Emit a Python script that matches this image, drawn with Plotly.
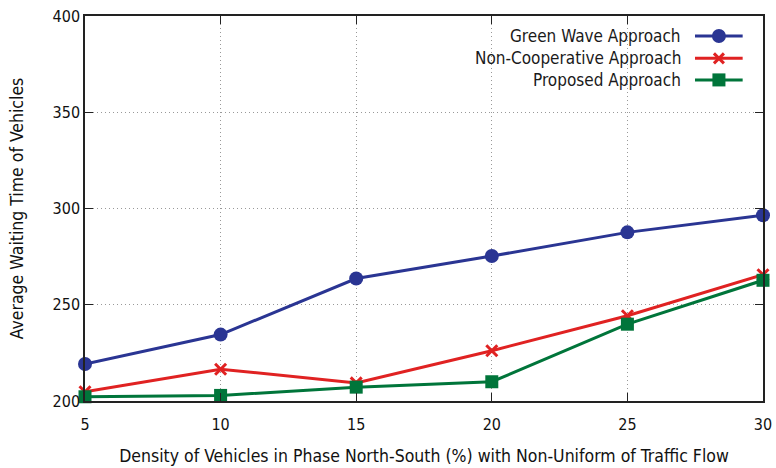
import plotly.graph_objects as go

density = [5, 10, 15, 20, 25, 30]
green_wave = [219.2, 234.5, 263.6, 275.3, 287.6, 296.5]
non_coop = [204.8, 216.5, 209.4, 226.1, 244.3, 265.6]
proposed = [202.2, 202.9, 207.2, 210.0, 239.9, 262.7]

series_names = ["Green Wave Approach", "Non-Cooperative Approach", "Proposed Approach"]
x_ticks = [5, 10, 15, 20, 25, 30]
y_ticks = [200, 250, 300, 350, 400]

colors = ["#2a3593", "#e02222", "#00753a"]
symbols = ["circle", "x-thin", "square"]
FONT = "DejaVu Sans Condensed, DejaVu Sans"

fig = go.Figure()
for name, ys, c, s in zip(series_names, [green_wave, non_coop, proposed], colors, symbols):
    if s == "x-thin":
        marker = dict(symbol="x-thin", size=11, line=dict(color=c, width=3), color=c)
    else:
        marker = dict(symbol=s, size=14 if s == "circle" else 13, color=c)
    fig.add_trace(go.Scatter(x=density, y=ys, mode="lines+markers", name=name,
                             line=dict(color=c, width=3), marker=marker,
                             showlegend=False, cliponaxis=False))

# custom legend (text right, sample on right, like gnuplot)
rows = [0.948, 0.890, 0.834]
lx0, lx1, lxm = 0.8997, 0.970, 0.935
shapes = []
annotations = []
for name, c, s, ry in zip(series_names, colors, symbols, rows):
    annotations.append(dict(x=0.8816, y=ry, xref="paper", yref="paper", text=name,
                            showarrow=False, xanchor="right", yanchor="middle",
                            font=dict(family=FONT, size=17, color="#1a1a1a")))
    shapes.append(dict(type="line", xref="paper", yref="paper", x0=lx0, x1=lx1, y0=ry, y1=ry,
                       line=dict(color=c, width=3)))
    dx = 7 / 678
    dy = 7 / 385
    if s == "circle":
        shapes.append(dict(type="circle", xref="paper", yref="paper", x0=lxm - dx, x1=lxm + dx,
                           y0=ry - dy, y1=ry + dy, fillcolor=c, line=dict(color=c, width=0)))
    elif s == "square":
        shapes.append(dict(type="rect", xref="paper", yref="paper", x0=lxm - dx * 0.93, x1=lxm + dx * 0.93,
                           y0=ry - dy * 0.93, y1=ry + dy * 0.93, fillcolor=c, line=dict(color=c, width=0)))
    else:
        ex = 5 / 678
        ey = 5 / 385
        shapes.append(dict(type="line", xref="paper", yref="paper", x0=lxm - ex, x1=lxm + ex,
                           y0=ry - ey, y1=ry + ey, line=dict(color=c, width=3)))
        shapes.append(dict(type="line", xref="paper", yref="paper", x0=lxm - ex, x1=lxm + ex,
                           y0=ry + ey, y1=ry - ey, line=dict(color=c, width=3)))

axis_common = dict(showline=True, linecolor="#222", linewidth=1.5, mirror="ticks",
                   ticks="inside", ticklen=8, tickcolor="#222", tickwidth=1,
                   showgrid=True, gridcolor="#999", griddash="1px,3px", gridwidth=1,
                   zeroline=False, automargin=False, ticklabeloverflow="allow")

fig.update_xaxes(range=[5, 30], tickvals=x_ticks, ticklabelstandoff=8,
                 tickfont=dict(family=FONT, size=16, color="#111"),
                 title=dict(text="Density of Vehicles in Phase North-South (%) with Non-Uniform of Traffic Flow",
                            font=dict(family=FONT, size=17.5, color="#111"), standoff=17),
                 **axis_common)
fig.update_yaxes(range=[200, 400], tickvals=y_ticks,
                 tickfont=dict(family=FONT, size=16, color="#111"),
                 title=dict(text="Average Waiting Time of Vehicles",
                            font=dict(family=FONT, size=17.5, color="#111"), standoff=24),
                 **axis_common)

fig.update_layout(width=776, height=468, margin=dict(l=85, r=13, t=16, b=67),
                  plot_bgcolor="white", paper_bgcolor="white",
                  shapes=shapes, annotations=annotations)

# remove the browser's default 8px body margin so the figure fills the window exactly
fig.write_html("out.html", config={"displayModeBar": False},
               post_script="document.body.style.margin='0';document.body.style.overflow='hidden';")
